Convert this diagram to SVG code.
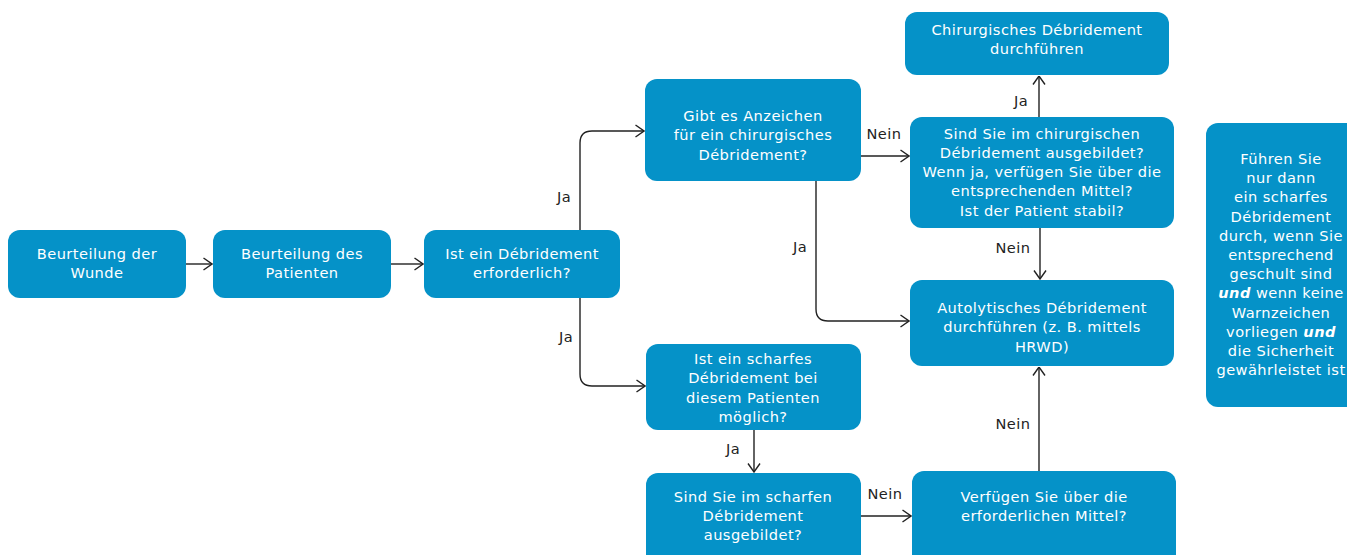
<svg xmlns="http://www.w3.org/2000/svg" width="1347" height="555" viewBox="0 0 1347 555">
<style>
.n{fill:#0592C8}
.t{fill:#fff;font-family:"DejaVu Sans","Open Sans",sans-serif;font-size:14.6px;letter-spacing:0.45px;text-anchor:middle}
.l{fill:#222;font-family:"DejaVu Sans","Open Sans",sans-serif;font-size:14.6px;letter-spacing:0.45px;text-anchor:middle}
.c{fill:none;stroke:#222;stroke-width:1.4}
</style>
<defs>
<marker id="a" viewBox="0 0 10 14" refX="9.5" refY="7" markerWidth="10" markerHeight="14" markerUnits="userSpaceOnUse" orient="auto">
<path d="M1,1 L9.5,7 L1,13" fill="none" stroke="#222" stroke-width="1.4"/>
</marker>
</defs>
<rect width="1347" height="555" fill="#fff"/>
<g id="connectors">
<path class="c" marker-end="url(#a)" d="M186,264 H212"/>
<path class="c" marker-end="url(#a)" d="M391,264 H423"/>
<path class="c" marker-end="url(#a)" d="M580,230 V143 Q580,131 592,131 H644"/>
<path class="c" marker-end="url(#a)" d="M580,298 V374 Q580,386 592,386 H645"/>
<path class="c" marker-end="url(#a)" d="M861,156 H909"/>
<path class="c" marker-end="url(#a)" d="M816,181 V309 Q816,321 828,321 H909"/>
<path class="c" marker-end="url(#a)" d="M1039,117 V76"/>
<path class="c" marker-end="url(#a)" d="M1040,228 V279"/>
<path class="c" marker-end="url(#a)" d="M754,430 V472"/>
<path class="c" marker-end="url(#a)" d="M861,516 H911"/>
<path class="c" marker-end="url(#a)" d="M1039,471 V367"/>
<text class="l" x="564" y="202">Ja</text>
<text class="l" x="566" y="342">Ja</text>
<text class="l" x="884" y="139">Nein</text>
<text class="l" x="800" y="252">Ja</text>
<text class="l" x="1021" y="106">Ja</text>
<text class="l" x="1013" y="253">Nein</text>
<text class="l" x="733" y="454">Ja</text>
<text class="l" x="885" y="499">Nein</text>
<text class="l" x="1013" y="429">Nein</text>
</g>
<g id="n1"><rect class="n" x="8" y="230" width="178" height="68" rx="12"/>
<text class="t" x="97" y="259">Beurteilung der</text><text class="t" x="97" y="278">Wunde</text></g>
<g id="n2"><rect class="n" x="213" y="230" width="178" height="68" rx="12"/>
<text class="t" x="302" y="259">Beurteilung des</text><text class="t" x="302" y="278">Patienten</text></g>
<g id="n3"><rect class="n" x="424" y="230" width="196" height="68" rx="12"/>
<text class="t" x="522" y="259">Ist ein Débridement</text><text class="t" x="522" y="278">erforderlich?</text></g>
<g id="n4"><rect class="n" x="645" y="79" width="216" height="102" rx="12"/>
<text class="t" x="753" y="121">Gibt es Anzeichen</text><text class="t" x="753" y="140">für ein chirurgisches</text><text class="t" x="753" y="160">Débridement?</text></g>
<g id="n5"><rect class="n" x="905" y="12" width="264" height="63" rx="12"/>
<text class="t" x="1037" y="35">Chirurgisches Débridement</text><text class="t" x="1037" y="54">durchführen</text></g>
<g id="n6"><rect class="n" x="910" y="117" width="264" height="111" rx="12"/>
<text class="t" x="1042" y="139">Sind Sie im chirurgischen</text><text class="t" x="1042" y="158">Débridement ausgebildet?</text><text class="t" x="1042" y="177">Wenn ja, verfügen Sie über die</text><text class="t" x="1042" y="196">entsprechenden Mittel?</text><text class="t" x="1042" y="216">Ist der Patient stabil?</text></g>
<g id="n7"><rect class="n" x="910" y="280" width="264" height="86" rx="12"/>
<text class="t" x="1042" y="313">Autolytisches Débridement</text><text class="t" x="1042" y="332">durchführen (z. B. mittels</text><text class="t" x="1042" y="352">HRWD)</text></g>
<g id="n8"><rect class="n" x="646" y="344" width="215" height="86" rx="12"/>
<text class="t" x="753" y="364">Ist ein scharfes</text><text class="t" x="753" y="383">Débridement bei</text><text class="t" x="753" y="403">diesem Patienten</text><text class="t" x="753" y="422">möglich?</text></g>
<g id="n9"><rect class="n" x="646" y="473" width="215" height="95" rx="12"/>
<text class="t" x="753" y="502">Sind Sie im scharfen</text><text class="t" x="753" y="521">Débridement</text><text class="t" x="753" y="540">ausgebildet?</text></g>
<g id="n10"><rect class="n" x="912" y="471" width="264" height="97" rx="12"/>
<text class="t" x="1044" y="502">Verfügen Sie über die</text><text class="t" x="1044" y="521">erforderlichen Mittel?</text></g>
<g id="n11"><rect class="n" x="1206" y="123" width="160" height="284" rx="12"/>
<text class="t" x="1281" y="164">Führen Sie</text>
<text class="t" x="1281" y="183">nur dann</text>
<text class="t" x="1281" y="202">ein scharfes</text>
<text class="t" x="1281" y="222">Débridement</text>
<text class="t" x="1281" y="241">durch, wenn Sie</text>
<text class="t" x="1281" y="260">entsprechend</text>
<text class="t" x="1281" y="279">geschult sind</text>
<text class="t" x="1281" y="298"><tspan font-weight="bold" font-style="italic">und</tspan> wenn keine</text>
<text class="t" x="1281" y="318">Warnzeichen</text>
<text class="t" x="1281" y="337">vorliegen <tspan font-weight="bold" font-style="italic">und</tspan></text>
<text class="t" x="1281" y="356">die Sicherheit</text>
<text class="t" x="1281" y="375">gewährleistet ist</text></g>
</svg>
